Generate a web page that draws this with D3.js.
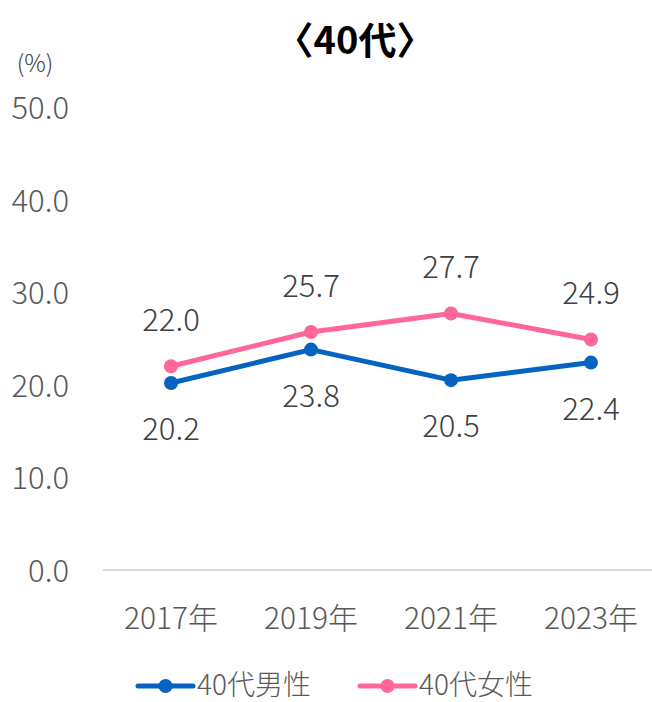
<head>
<meta charset="utf-8">
<style>
body { margin: 0; background: #fff; }
text { font-family: "Noto Sans CJK JP", "Noto Sans", sans-serif; font-weight: 300; }
</style>
<script src="https://d3js.org/d3.v7.min.js"></script>
</head>
<body>
<div id="chart"></div>
<script>
var years = ['2017年', '2019年', '2021年', '2023年'];
var male = [20.2, 23.8, 20.5, 22.4];
var female = [22.0, 25.7, 27.7, 24.9];
var yTicks = [0, 10, 20, 30, 40, 50];
var seriesNames = ['40代男性', '40代女性'];
var colors = ['#0563c1', '#ff6699'];

var width = 652, height = 702;

var svg = d3.select('#chart').append('svg')
	.attr('width', width)
	.attr('height', height);

var x = d3.scaleBand().domain(years).range([101, 661]);
var y = d3.scaleLinear().domain([0, 50]).range([570, 107]);

// title
svg.append('text')
	.attr('x', 355).attr('y', 54)
	.attr('text-anchor', 'middle')
	.style('font-weight', 'bold')
	.style('font-size', '38px')
	.attr('fill', '#000')
	.text('〈40代〉');

svg.append('text')
	.attr('x', 35).attr('y', 72)
	.attr('text-anchor', 'middle')
	.style('font-size', '24px')
	.attr('fill', '#404040')
	.text('(%)');

// y axis labels
svg.selectAll('.ytick')
	.data(yTicks)
	.enter().append('text')
		.attr('class', 'ytick')
		.attr('x', 69)
		.attr('y', function(d) { return y(d) + 12; })
		.attr('text-anchor', 'end')
		.style('font-size', '31px')
		.attr('fill', '#595959')
		.text(function(d) { return d3.format('.1f')(d); });

// baseline
svg.append('line')
	.attr('x1', 103).attr('x2', 652)
	.attr('y1', y(0)).attr('y2', y(0))
	.attr('stroke', '#d9d9d9')
	.attr('stroke-width', 2);

// x labels
svg.selectAll('.xtick')
	.data(years)
	.enter().append('text')
		.attr('class', 'xtick')
		.attr('x', function(d) { return x(d) + x.bandwidth() / 2; })
		.attr('y', 629)
		.attr('text-anchor', 'middle')
		.style('font-size', '30px')
		.attr('fill', '#595959')
		.text(function(d) { return d; });

var line = d3.line()
	.x(function(d, i) { return x(years[i]) + x.bandwidth() / 2; })
	.y(function(d) { return y(d); });

[male, female].forEach(function(series, k) {
	svg.append('path')
		.datum(series)
		.attr('d', line)
		.attr('fill', 'none')
		.attr('stroke', colors[k])
		.attr('stroke-width', 5)
		.attr('stroke-linejoin', 'round');

	svg.selectAll('.pt' + k)
		.data(series)
		.enter().append('circle')
			.attr('class', 'pt' + k)
			.attr('cx', function(d, i) { return x(years[i]) + x.bandwidth() / 2; })
			.attr('cy', function(d) { return y(d); })
			.attr('r', 7)
			.attr('fill', colors[k]);

	svg.selectAll('.lbl' + k)
		.data(series)
		.enter().append('text')
			.attr('class', 'lbl' + k)
			.attr('x', function(d, i) { return x(years[i]) + x.bandwidth() / 2; })
			.attr('y', function(d) { return k === 0 ? y(d) + 57 : y(d) - 35; })
			.attr('text-anchor', 'middle')
			.style('font-size', '31px')
			.attr('fill', '#404040')
			.text(function(d) { return d3.format('.1f')(d); });
});

// legend
var legendX = [138, 360];
seriesNames.forEach(function(name, k) {
	var g = svg.append('g').attr('transform', 'translate(' + legendX[k] + ',686)');
	g.append('line')
		.attr('x1', 0).attr('x2', 55)
		.attr('stroke', colors[k])
		.attr('stroke-width', 5)
		.attr('stroke-linecap', 'round');
	g.append('circle').attr('cx', 27.5).attr('r', 7).attr('fill', colors[k]);
	g.append('text')
		.attr('x', 59).attr('y', 9)
		.style('font-size', '28px')
		.attr('fill', '#595959')
		.text(name);
});
</script>
</body>
